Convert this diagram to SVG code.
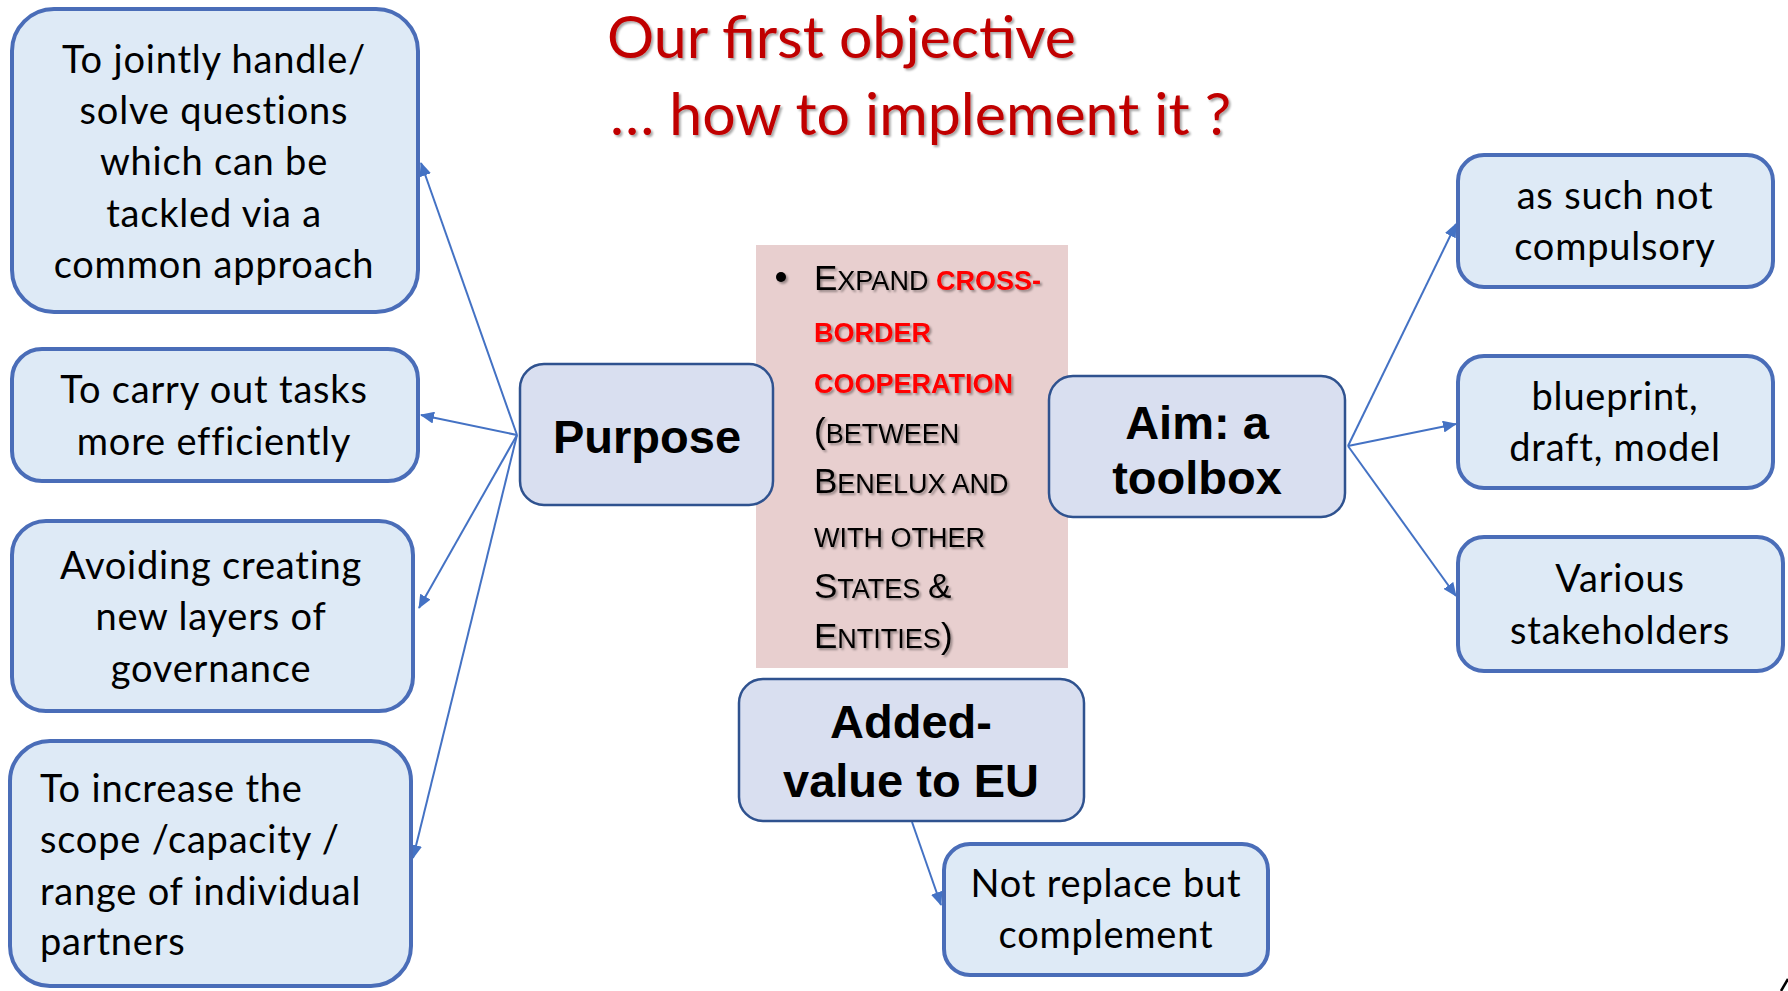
<svg xmlns="http://www.w3.org/2000/svg" width="1788" height="991" viewBox="0 0 1788 991">
<defs>
<style>
.lb{fill:#DEEAF6;stroke:#4A6DB8;stroke-width:4}
.db{fill:#D9DFF0;stroke:#2F528F;stroke-width:2.5}
.t{font-family:Lato,"Liberation Sans",sans-serif;font-size:38px;letter-spacing:0.8px;fill:#000}
.c{text-anchor:middle}
.h{font-family:"Liberation Sans",Arial,sans-serif;font-weight:bold;font-size:47px;fill:#000;text-anchor:middle}
.title{font-family:Lato,"Liberation Sans",sans-serif;font-size:59px;fill:#C00000}
.sc{font-family:"Liberation Sans",Arial,sans-serif;fill:#000}
.big{font-size:35px}
.sm{font-size:27px}
.red{fill:#FF0000;font-weight:bold;font-size:27px}
.con{stroke:#4472C4;stroke-width:2;fill:none;marker-end:url(#ah)}
</style>
<marker id="ah" markerUnits="userSpaceOnUse" markerWidth="14" markerHeight="12" refX="13" refY="6" orient="auto">
<path d="M0,0 L14,6 L0,12 z" fill="#4472C4"/>
</marker>
<filter id="sh" x="-5%" y="-20%" width="110%" height="140%">
<feDropShadow dx="2" dy="2" stdDeviation="1.2" flood-color="#000" flood-opacity="0.35"/>
</filter>
</defs>
<rect width="1788" height="991" fill="#FFFFFF"/>

<g id="title" filter="url(#sh)">
<text class="title" x="607" y="58">Our first objective</text>
<text class="title" x="610" y="135">… how to implement it ?</text>
</g>

<g id="connectors">
<line class="con" x1="517" y1="435" x2="421" y2="163"/>
<line class="con" x1="517" y1="435" x2="421" y2="415"/>
<line class="con" x1="517" y1="435" x2="419" y2="608"/>
<line class="con" x1="517" y1="435" x2="413" y2="858"/>
<line class="con" x1="1348" y1="446" x2="1456" y2="224"/>
<line class="con" x1="1348" y1="446" x2="1456" y2="424"/>
<line class="con" x1="1348" y1="446" x2="1456" y2="596"/>
<line class="con" x1="912" y1="822" x2="941" y2="905"/>
</g>

<g id="pink-box">
<rect x="756" y="245" width="312" height="423" fill="#E8CFCF"/>
<g filter="url(#sh)">
<circle cx="781" cy="277" r="5" fill="#000"/>
<text class="sc" x="814" y="290"><tspan class="big">E</tspan><tspan class="sm">XPAND </tspan><tspan class="red">CROSS-</tspan></text>
<text class="sc" x="814" y="342"><tspan class="red">BORDER</tspan></text>
<text class="sc" x="814" y="393"><tspan class="red">COOPERATION</tspan></text>
<text class="sc" x="814" y="443"><tspan class="big">(</tspan><tspan class="sm">BETWEEN</tspan></text>
<text class="sc" x="814" y="493"><tspan class="big">B</tspan><tspan class="sm">ENELUX AND</tspan></text>
<text class="sc" x="814" y="547"><tspan class="sm">WITH OTHER</tspan></text>
<text class="sc" x="814" y="598"><tspan class="big">S</tspan><tspan class="sm">TATES </tspan><tspan class="big">&amp;</tspan></text>
<text class="sc" x="814" y="648"><tspan class="big">E</tspan><tspan class="sm">NTITIES</tspan><tspan class="big">)</tspan></text>
</g>
</g>

<g id="box-jointly">
<rect class="lb" x="12" y="9" width="406" height="303" rx="42"/>
<text class="t c" x="214" y="73">To jointly handle/</text>
<text class="t c" x="214" y="124">solve questions</text>
<text class="t c" x="214" y="175">which can be</text>
<text class="t c" x="214" y="227">tackled via a</text>
<text class="t c" x="214" y="278">common approach</text>
</g>

<g id="box-efficiently">
<rect class="lb" x="12" y="349" width="406" height="132" rx="30"/>
<text class="t c" x="214" y="403">To carry out tasks</text>
<text class="t c" x="214" y="455">more efficiently</text>
</g>

<g id="box-avoiding">
<rect class="lb" x="12" y="521" width="401" height="190" rx="34"/>
<text class="t c" x="211" y="579">Avoiding creating</text>
<text class="t c" x="211" y="630">new layers of</text>
<text class="t c" x="211" y="682">governance</text>
</g>

<g id="box-increase">
<rect class="lb" x="10" y="741" width="401" height="245" rx="40"/>
<text class="t" x="40" y="802">To increase the</text>
<text class="t" x="40" y="853">scope /capacity /</text>
<text class="t" x="40" y="905">range of individual</text>
<text class="t" x="40" y="955">partners</text>
</g>

<g id="purpose">
<rect class="db" x="520" y="364" width="253" height="141" rx="24"/>
<text class="h" x="647" y="453">Purpose</text>
</g>

<g id="aim">
<rect class="db" x="1049" y="376" width="296" height="141" rx="24"/>
<text class="h" x="1197" y="439">Aim: a</text>
<text class="h" x="1197" y="494">toolbox</text>
</g>

<g id="added-value">
<rect class="db" x="739" y="679" width="345" height="142" rx="24"/>
<text class="h" x="911" y="738">Added-</text>
<text class="h" x="911" y="797">value to EU</text>
</g>

<g id="box-not-replace">
<rect class="lb" x="944" y="844" width="324" height="131" rx="26"/>
<text class="t c" x="1106" y="897">Not replace but</text>
<text class="t c" x="1106" y="948">complement</text>
</g>

<g id="box-not-compulsory">
<rect class="lb" x="1458" y="155" width="315" height="132" rx="26"/>
<text class="t c" x="1615" y="209">as such not</text>
<text class="t c" x="1615" y="260">compulsory</text>
</g>

<g id="box-blueprint">
<rect class="lb" x="1458" y="356" width="315" height="132" rx="26"/>
<text class="t c" x="1615" y="410">blueprint,</text>
<text class="t c" x="1615" y="461">draft, model</text>
</g>

<g id="box-stakeholders">
<rect class="lb" x="1458" y="537" width="325" height="134" rx="26"/>
<text class="t c" x="1620" y="592">Various</text>
<text class="t c" x="1620" y="644">stakeholders</text>
</g>

<line x1="1781" y1="991" x2="1788" y2="979" stroke="#000" stroke-width="2.5"/>
</svg>
